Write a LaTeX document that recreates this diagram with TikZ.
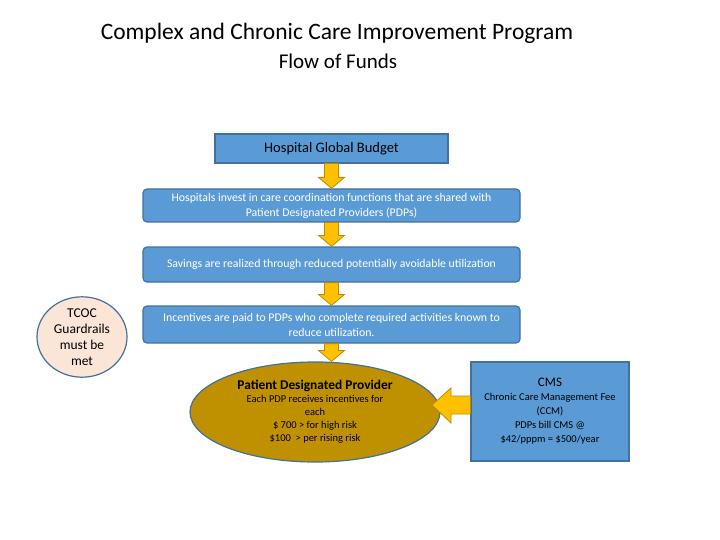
\documentclass[tikz,border=0pt]{standalone}
\usepackage{fontspec}
\setmainfont{Carlito}
\usetikzlibrary{shapes.geometric,calc}
\definecolor{bluef}{HTML}{5B9BD5}
\definecolor{blued}{HTML}{41719C}
\definecolor{gold}{HTML}{FFC000}
\definecolor{goldd}{HTML}{BC8C00}
\definecolor{olive}{HTML}{BF9000}
\definecolor{peach}{HTML}{FBE5D6}
\begin{document}
\begin{tikzpicture}[x=1pt,y=-1pt,
 box/.style={draw=blued,line width=1.2pt,fill=bluef,text=white,align=center,font=\fontsize{11.8}{15}\selectfont,inner sep=0pt},
 dn/.style={fill=gold,draw=goldd,line width=0.8pt}]
\useasboundingbox (0,0) rectangle (720,540);
\fill[white] (0,0) rectangle (720,540);
\node (t1) at (337,33) {\fontsize{23.5}{28}\selectfont Complex and Chronic Care Improvement Program};
\node (t2) at (338,61) {\fontsize{21}{24}\selectfont Flow of Funds};
\node[box,text=black,minimum width=233pt,minimum height=29pt,font=\fontsize{14.5}{17}\selectfont] (b1) at (331.5,148.5) {Hospital Global Budget};
\node[box,rounded corners=4pt,minimum width=377pt,minimum height=33pt] (b2) at (331.5,205.5) {Hospitals invest in care coordination functions that are shared with\\Patient Designated Providers (PDPs)};
\node[box,rounded corners=4pt,minimum width=377pt,minimum height=35pt] (b3) at (331.5,264.5) {Savings are realized through reduced potentially avoidable utilization};
\node[box,rounded corners=4pt,minimum width=377pt,minimum height=37pt] (b4) at (331.5,324.5) {Incentives are paid to PDPs who complete required activities known to\\reduce utilization.};
\node[ellipse,draw=blued,line width=1.2pt,fill=olive,minimum width=250pt,minimum height=100pt,align=center,inner sep=0pt,font=\fontsize{10.5}{13}\selectfont] (pdp) at (315,412) {{\fontsize{13.4}{16}\selectfont\bfseries Patient Designated Provider}\\Each PDP receives incentives for\\each\\\$ 700 > for high risk\\\$100 \ > per rising risk};
\node[box,text=black,minimum width=158pt,minimum height=99pt,font=\fontsize{10.5}{14}\selectfont] (cms) at (550,411.5) {{\fontsize{13}{16}\selectfont CMS}\\Chronic Care Management Fee\\(CCM)\\PDPs bill CMS @\\\$42/pppm = \$500/year};
\node[ellipse,draw=blued,line width=1.2pt,fill=peach,minimum width=90pt,minimum height=78pt,align=center,inner sep=0pt,font=\fontsize{13.5}{16}\selectfont] (tc) at (82,337) {TCOC\\Guardrails\\must be\\met};
\foreach \a/\b in {b1/b2,b2/b3,b3/b4,b4/pdp}{
 \path (\a.south) coordinate (s) (\a.south |- \b.north) coordinate (e);
 \draw[dn] ($(s)+(-7,0)$) -- ($(s)+(7,0)$) -- ($(e)+(7,-11)$) -- ($(e)+(13,-11)$) -- (e) -- ($(e)+(-13,-11)$) -- ($(e)+(-7,-11)$) -- cycle;
}
\coordinate (ae) at (432,405);
\draw[dn] (cms.west |- 0,396) -- (451,396) -- (451,388) -- (ae) -- (451,423) -- (451,414) -- (cms.west |- 0,414) -- cycle;
\end{tikzpicture}
\end{document}
